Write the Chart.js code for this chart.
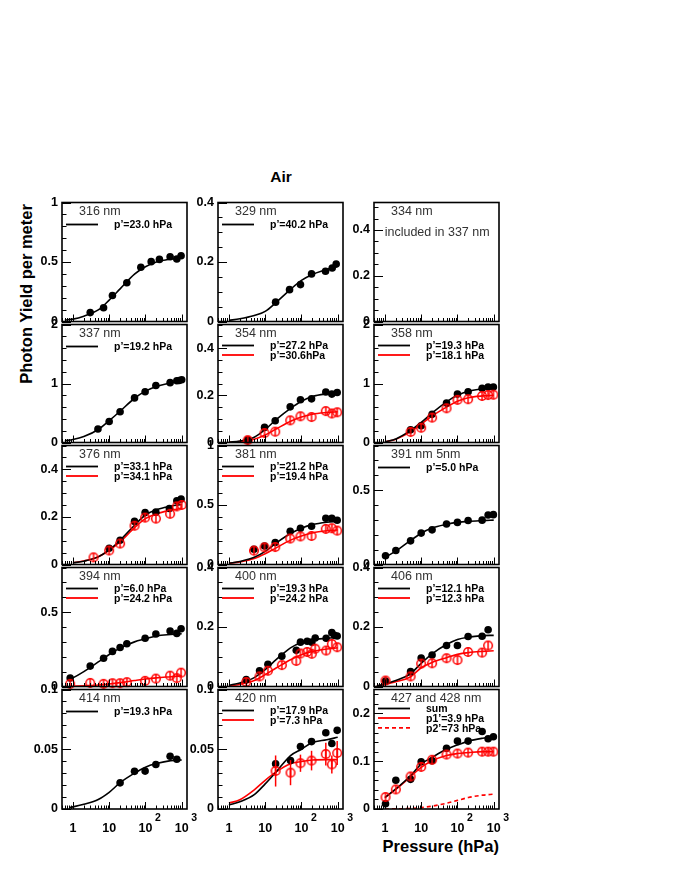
<!DOCTYPE html>
<html>
<head>
<meta charset="utf-8">
<script src="https://cdn.jsdelivr.net/npm/chart.js@4.4.1/dist/chart.umd.min.js"></script>
<style>
  body { margin: 0; background: #fff; }
  #page { position: relative; width: 674px; height: 872px; overflow: hidden; font-family: "Liberation Sans", Arial, sans-serif; }
  #page canvas { position: absolute; }
  .lbl { position: absolute; font-weight: bold; line-height: 1; white-space: nowrap; color: #000; }
</style>
</head>
<body>
<div id="page">
  <div class="lbl" style="left:281px; top:177px; font-size:15.5px; transform:translate(-50%,-50%);">Air</div>
  <div class="lbl" style="left:25.6px; top:294px; font-size:16.5px; transform:translate(-50%,-50%) rotate(-90deg);">Photon Yield per meter</div>
  <div class="lbl" style="left:499px; top:846px; font-size:16.5px; transform:translate(-100%,-50%);">Pressure (hPa)</div>
</div>
<script>
var fitP = [1, 2, 5, 10, 20, 50, 100, 200, 500, 1000];
var fitPLow = [0.6, 1, 2, 5, 10, 20, 50, 100, 200, 500, 1000];
var fitP08 = [0.8, 1, 2, 5, 10, 20, 50, 100, 200, 500, 1000];

// 316 nm
var p316 = [3.0, 7.0, 12.3, 30.7, 74.7, 144, 243, 479, 733, 962];
var y316 = [0.075, 0.116, 0.218, 0.326, 0.456, 0.503, 0.522, 0.544, 0.525, 0.552];
var fit316 = [0.012, 0.02, 0.045, 0.097, 0.18, 0.274, 0.398, 0.46, 0.5, 0.525, 0.535];
// 329 nm
var p329 = [19.4, 47, 94, 190, 461, 705, 908];
var y329 = [0.065, 0.107, 0.124, 0.16, 0.169, 0.18, 0.193];
var fit329 = [0.004, 0.009, 0.02, 0.034, 0.064, 0.108, 0.138, 0.158, 0.175, 0.188];
// 337 nm
var p337 = [4.9, 10, 20, 50, 98, 194, 479, 733, 850, 1000];
var y337 = [0.23, 0.356, 0.52, 0.756, 0.86, 0.965, 1.014, 1.047, 1.052, 1.063];
var fit337 = [0.03, 0.05, 0.1, 0.22, 0.37, 0.53, 0.75, 0.87, 0.95, 1.01, 1.05];
// 354 nm
var p354 = [3.3, 9.6, 18.9, 49, 94, 190, 470, 689, 968];
var y354b = [0.011, 0.064, 0.092, 0.151, 0.181, 0.185, 0.214, 0.205, 0.212];
var y354r = [0.01, 0.04, 0.046, 0.094, 0.111, 0.108, 0.133, 0.123, 0.128];
var fit354b = [0.002, 0.006, 0.022, 0.055, 0.097, 0.145, 0.175, 0.195, 0.206, 0.21];
var fit354r = [0.001, 0.004, 0.014, 0.032, 0.057, 0.09, 0.108, 0.12, 0.127, 0.13];
// 358 nm
var p358 = [5.1, 10, 20, 50, 100, 197, 479, 701, 980];
var y358b = [0.214, 0.284, 0.477, 0.668, 0.82, 0.86, 0.92, 0.94, 0.94];
var y358r = [0.18, 0.25, 0.422, 0.58, 0.723, 0.734, 0.789, 0.805, 0.81];
var fit358b = [0.01, 0.06, 0.2, 0.34, 0.5, 0.69, 0.8, 0.87, 0.91, 0.93];
var fit358r = [0.01, 0.055, 0.18, 0.31, 0.45, 0.6, 0.7, 0.76, 0.79, 0.8];
// 376 nm
var p376b = [10, 20, 50, 98, 194, 457, 733, 962];
var y376b = [0.068, 0.102, 0.181, 0.218, 0.22, 0.235, 0.268, 0.275];
var p376r = [3.7, 10, 20, 50, 98, 194, 479, 733, 1000];
var y376r = [0.03, 0.059, 0.088, 0.163, 0.197, 0.193, 0.213, 0.244, 0.25];
var fit376b = [0.007, 0.014, 0.032, 0.061, 0.102, 0.165, 0.208, 0.23, 0.245, 0.252];
var fit376r = [0.007, 0.015, 0.033, 0.06, 0.095, 0.155, 0.193, 0.213, 0.228, 0.236];
// 381 nm
var p381 = [4.9, 9.6, 18.9, 49, 94, 190, 470, 689, 968];
var y381b = [0.128, 0.155, 0.185, 0.28, 0.305, 0.321, 0.389, 0.389, 0.372];
var y381r = [0.117, 0.144, 0.147, 0.218, 0.236, 0.24, 0.299, 0.305, 0.285];
var fit381b = [0.01, 0.025, 0.06, 0.11, 0.18, 0.26, 0.305, 0.335, 0.355, 0.362];
var fit381r = [0.01, 0.022, 0.05, 0.09, 0.14, 0.205, 0.24, 0.265, 0.283, 0.29];
// 391 nm
var p391 = [1.04, 2.0, 5.1, 10, 20, 50, 100, 197, 479, 701, 980];
var y391 = [0.059, 0.094, 0.159, 0.211, 0.233, 0.272, 0.283, 0.296, 0.298, 0.333, 0.335];
var fit391 = [0.048, 0.09, 0.16, 0.21, 0.245, 0.27, 0.283, 0.29, 0.295, 0.298];
// 394 nm
var p394 = [0.84, 3.0, 7.0, 12.3, 20, 30.7, 98, 194, 479, 733, 962];
var y394b = [0.057, 0.137, 0.19, 0.236, 0.262, 0.287, 0.324, 0.353, 0.373, 0.357, 0.388];
var y394r = [0.018, 0.024, 0.018, 0.022, 0.022, 0.029, 0.038, 0.053, 0.073, 0.056, 0.093];
var fit394b = [0.048, 0.058, 0.1, 0.165, 0.215, 0.258, 0.3, 0.32, 0.34, 0.35, 0.355];
var fit394r = [0.001, 0.002, 0.005, 0.01, 0.017, 0.026, 0.04, 0.05, 0.058, 0.066, 0.072];
// 400 nm
var p400b = [3.0, 7.0, 11.9, 28.8, 72, 94, 144, 193, 240, 480, 689, 812, 968];
var y400b = [0.023, 0.053, 0.075, 0.102, 0.122, 0.149, 0.152, 0.149, 0.163, 0.162, 0.181, 0.172, 0.17];
var p400r = [3.0, 7.0, 11.9, 28.8, 72, 94, 144, 193, 240, 480, 689, 968];
var y400r = [0.015, 0.034, 0.053, 0.072, 0.086, 0.111, 0.116, 0.11, 0.127, 0.121, 0.143, 0.132];
var fit400b = [0.004, 0.012, 0.03, 0.057, 0.09, 0.13, 0.148, 0.157, 0.162, 0.165];
var fit400r = [0.002, 0.007, 0.02, 0.04, 0.062, 0.09, 0.107, 0.118, 0.126, 0.13];
// 406 nm
var p406 = [1.04, 5.1, 10, 20, 50, 100, 197, 479, 701];
var y406b = [0.018, 0.05, 0.096, 0.106, 0.138, 0.138, 0.168, 0.169, 0.191];
var y406r = [0.02, 0.034, 0.077, 0.078, 0.095, 0.089, 0.116, 0.114, 0.138];
var fit406b = [0.002, 0.008, 0.02, 0.042, 0.078, 0.11, 0.141, 0.158, 0.166, 0.171, 0.172];
var fit406r = [0.002, 0.007, 0.016, 0.032, 0.063, 0.081, 0.097, 0.108, 0.114, 0.118, 0.12];
// 414 nm
var p414 = [20, 50, 98, 194, 479, 733];
var y414 = [0.0219, 0.0315, 0.0317, 0.0373, 0.0441, 0.0416];
var fit414 = [0.0012, 0.0018, 0.004, 0.008, 0.014, 0.022, 0.03, 0.035, 0.038, 0.0405, 0.041];
// 420 nm
var p420 = [19.4, 50, 94, 190, 470, 689, 968];
var y420b = [0.0378, 0.0405, 0.0523, 0.0564, 0.0638, 0.0548, 0.0658];
var y420r = [0.0318, 0.0304, 0.0383, 0.0405, 0.046, 0.0373, 0.0469];
var err420r = [0.013, 0.0105, 0.0072, 0.0082, 0.0095, 0.0075, 0.01];
var fit420b = [0.0033, 0.006, 0.012, 0.021, 0.031, 0.0447, 0.05, 0.0556, 0.058, 0.06];
var fit420r = [0.005, 0.0077, 0.016, 0.024, 0.031, 0.0378, 0.0397, 0.041, 0.0413, 0.0413];
// 427 and 428 nm
var p427 = [1.04, 2.0, 5.1, 10, 20, 50, 100, 197, 479, 701, 980];
var y427b = [0.011, 0.06, 0.062, 0.099, 0.101, 0.127, 0.142, 0.142, 0.162, 0.147, 0.151];
var y427r = [0.025, 0.041, 0.068, 0.088, 0.103, 0.114, 0.116, 0.118, 0.12, 0.12, 0.12];
var fit427sum = [0.024, 0.042, 0.069, 0.094, 0.108, 0.125, 0.134, 0.142, 0.148, 0.151];
var fit427p1 = [0.024, 0.041, 0.067, 0.087, 0.101, 0.112, 0.116, 0.118, 0.12, 0.12];
var fit427p2 = [0.0, 0.0005, 0.001, 0.003, 0.006, 0.012, 0.018, 0.024, 0.029, 0.031];

// y tick labels per panel
var yLab01 = [0, 0.5, 1];
var yLab04 = [0, 0.2, 0.4];
var yLab2 = [0, 1, 2];
var yLab08 = [0, 0.5];
var yLab01small = [0, 0.05, 0.1];
var yLab025 = [0, 0.1, 0.2];

// x tick labels (bottom row only)
var xTickVals = [1, 10, 100, 1000];
var xTickBase = ['1', '10', '10', '10'];
var xTickExp = ['', '', '2', '3'];

var BLACK = '#000000';
var RED = '#ff0000';
var FONT = '"Liberation Sans", Arial, sans-serif';

var colLeft = [62, 218, 374];
var rowTop = [201, 323, 444, 566, 688];
var rowH = [122, 121, 122, 122, 121];
var panelW = 125;
var padLeft = 45, padRight = 16;

// open red circle with the small vertical error bar through it
function makeRing() {
    var c = document.createElement('canvas');
    c.width = 12;
    c.height = 12;
    var g = c.getContext('2d');
    g.strokeStyle = RED;
    g.lineWidth = 1.5;
    g.beginPath();
    g.arc(6, 6, 4.3, 0, Math.PI * 2);
    g.stroke();
    g.beginPath();
    g.moveTo(6, 1.5);
    g.lineTo(6, 10.5);
    g.stroke();
    return c;
}
var ring = makeRing();

function pts(xs, ys) {
    return xs.map(function (x, i) { return { x: x, y: ys[i] }; });
}
function curve(xs, ys, color, dash) {
    return { data: pts(xs, ys), borderColor: color, borderWidth: 1.6, borderDash: dash || [],
        pointRadius: 0, cubicInterpolationMode: 'monotone', fill: false, order: 3 };
}
function dots(xs, ys) {
    return { data: pts(xs, ys), showLine: false, pointStyle: 'circle', pointRadius: 3.8,
        backgroundColor: BLACK, borderColor: BLACK, borderWidth: 0, clip: false, order: 2 };
}
function rings(xs, ys, errs) {
    return { data: pts(xs, ys), showLine: false, pointStyle: ring, pointRadius: 5,
        borderColor: RED, clip: false, order: 1, errors: errs || null };
}

var panels = [
    { row: 0, col: 0, title: '316 nm', yMax: 1, yMajor: 0.5, yMinor: 0.1, yLabels: yLab01,
      legend: [['p\u2019=23.0 hPa', BLACK]],
      sets: [curve(fitPLow, fit316, BLACK), dots(p316, y316)] },
    { row: 0, col: 1, title: '329 nm', yMax: 0.4, yMajor: 0.2, yMinor: 0.05, yLabels: yLab04,
      legend: [['p\u2019=40.2 hPa', BLACK]],
      sets: [curve(fitP, fit329, BLACK), dots(p329, y329)] },
    { row: 0, col: 2, title: '334 nm', note: 'included in 337 nm', yMax: 0.52, yMajor: 0.2, yMinor: 0.05, yLabels: yLab04,
      legend: [], sets: [] },
    { row: 1, col: 0, title: '337 nm', yMax: 2, yMajor: 1, yMinor: 0.2, yLabels: yLab2,
      legend: [['p\u2019=19.2 hPa', BLACK]],
      sets: [curve(fitPLow, fit337, BLACK), dots(p337, y337)] },
    { row: 1, col: 1, title: '354 nm', yMax: 0.5, yMajor: 0.2, yMinor: 0.05, yLabels: yLab04,
      legend: [['p\u2019=27.2 hPa', BLACK], ['p\u2019=30.6hPa', RED]],
      sets: [curve(fitP, fit354b, BLACK), curve(fitP, fit354r, RED), dots(p354, y354b), rings(p354, y354r)] },
    { row: 1, col: 2, title: '358 nm', yMax: 2, yMajor: 1, yMinor: 0.2, yLabels: yLab2,
      legend: [['p\u2019=19.3 hPa', BLACK], ['p\u2019=18.1 hPa', RED]],
      sets: [curve(fitP, fit358b, BLACK), curve(fitP, fit358r, RED), dots(p358, y358b), rings(p358, y358r)] },
    { row: 2, col: 0, title: '376 nm', yMax: 0.5, yMajor: 0.2, yMinor: 0.05, yLabels: yLab04,
      legend: [['p\u2019=33.1 hPa', BLACK], ['p\u2019=34.1 hPa', RED]],
      sets: [curve(fitP, fit376b, BLACK), curve(fitP, fit376r, RED), dots(p376b, y376b), rings(p376r, y376r)] },
    { row: 2, col: 1, title: '381 nm', yMax: 1, yMajor: 0.5, yMinor: 0.1, yLabels: yLab01,
      legend: [['p\u2019=21.2 hPa', BLACK], ['p\u2019=19.4 hPa', RED]],
      sets: [curve(fitP, fit381b, BLACK), curve(fitP, fit381r, RED), dots(p381, y381b), rings(p381, y381r)] },
    { row: 2, col: 2, title: '391 nm 5nm', yMax: 0.8, yMajor: 0.5, yMinor: 0.1, yLabels: yLab08,
      legend: [['p\u2019=5.0 hPa', BLACK]],
      sets: [curve(fitP, fit391, BLACK), dots(p391, y391)] },
    { row: 3, col: 0, title: '394 nm', yMax: 0.8, yMajor: 0.5, yMinor: 0.1, yLabels: yLab08,
      legend: [['p\u2019=6.0 hPa', BLACK], ['p\u2019=24.2 hPa', RED]],
      sets: [curve(fitP08, fit394b, BLACK), curve(fitP08, fit394r, RED), dots(p394, y394b), rings(p394, y394r)] },
    { row: 3, col: 1, title: '400 nm', yMax: 0.4, yMajor: 0.2, yMinor: 0.05, yLabels: yLab04,
      legend: [['p\u2019=19.3 hPa', BLACK], ['p\u2019=24.2 hPa', RED]],
      sets: [curve(fitP, fit400b, BLACK), curve(fitP, fit400r, RED), dots(p400b, y400b), rings(p400r, y400r)] },
    { row: 3, col: 2, title: '406 nm', yMax: 0.4, yMajor: 0.2, yMinor: 0.05, yLabels: yLab04,
      legend: [['p\u2019=12.1 hPa', BLACK], ['p\u2019=12.3 hPa', RED]],
      sets: [curve(fitPLow, fit406b, BLACK), curve(fitPLow, fit406r, RED), dots(p406, y406b), rings(p406, y406r)] },
    { row: 4, col: 0, title: '414 nm', yMax: 0.1, yMajor: 0.05, yMinor: 0.01, yLabels: yLab01small,
      legend: [['p\u2019=19.3 hPa', BLACK]],
      sets: [curve(fitP08, fit414, BLACK), dots(p414, y414)] },
    { row: 4, col: 1, title: '420 nm', yMax: 0.1, yMajor: 0.05, yMinor: 0.01, yLabels: yLab01small,
      legend: [['p\u2019=17.9 hPa', BLACK], ['p\u2019=7.3 hPa', RED]],
      sets: [curve(fitP, fit420b, BLACK), curve(fitP, fit420r, RED), dots(p420, y420b), rings(p420, y420r, err420r)] },
    { row: 4, col: 2, title: '427 and 428 nm', yMax: 0.25, yMajor: 0.1, yMinor: 0.02, yLabels: yLab025,
      legend: [['sum', BLACK], ['p1\u2019=3.9 hPa', RED], ['p2\u2019=73 hPa', RED, [4, 3]]],
      sets: [curve(fitP, fit427sum, BLACK), curve(fitP, fit427p1, RED), curve(fitP, fit427p2, RED, [4, 3]),
             dots(p427, y427b), rings(p427, y427r)] }
];

function line(ctx, x1, y1, x2, y2) {
    ctx.beginPath();
    ctx.moveTo(x1, y1);
    ctx.lineTo(x2, y2);
    ctx.stroke();
}

// frame, inner ticks, texts, legend and error bars of one panel
function panelPlugin(pn) {
    return {
        id: 'panel',
        afterDatasetsDraw: function (chart) {
            var ctx = chart.ctx, x = chart.scales.x, y = chart.scales.y;
            ctx.save();
            chart.data.datasets.forEach(function (ds) {
                if (!ds.errors) return;
                ctx.strokeStyle = RED;
                ctx.lineWidth = 1.5;
                ds.data.forEach(function (d, i) {
                    var px = x.getPixelForValue(d.x);
                    line(ctx, px, y.getPixelForValue(d.y - ds.errors[i]), px, y.getPixelForValue(d.y + ds.errors[i]));
                });
            });
            ctx.restore();
        },
        afterDraw: function (chart) {
            var ctx = chart.ctx, a = chart.chartArea, x = chart.scales.x, y = chart.scales.y;
            ctx.save();
            ctx.strokeStyle = BLACK;
            ctx.lineWidth = 1;
            // y ticks, inside the frame
            var n = Math.floor(pn.yMax / pn.yMinor + 1e-6);
            for (var i = 0; i <= n; i++) {
                var v = i * pn.yMinor;
                var r = v / pn.yMajor;
                var major = Math.abs(r - Math.round(r)) < 1e-6;
                var py = Math.round(y.getPixelForValue(v)) + 0.5;
                line(ctx, a.left, py, a.left + (major ? 9 : 4.5), py);
            }
            // x ticks on the log axis
            for (var e = -1; e <= 3; e++) {
                for (var j = 1; j <= 9; j++) {
                    var xv = j * Math.pow(10, e);
                    if (xv < x.min || xv > x.max) continue;
                    var px = Math.round(x.getPixelForValue(xv)) + 0.5;
                    line(ctx, px, a.bottom, px, a.bottom - (j === 1 ? 7 : 3.5));
                }
            }
            // frame
            ctx.lineWidth = 1.6;
            ctx.strokeRect(a.left, a.top, a.right - a.left, a.bottom - a.top);

            // wavelength title
            ctx.textBaseline = 'middle';
            ctx.textAlign = 'left';
            ctx.fillStyle = '#333';
            ctx.font = '12.5px ' + FONT;
            ctx.fillText(pn.title, a.left + 17, a.top + 9);
            if (pn.note) ctx.fillText(pn.note, a.left + 10.7, a.top + 30);

            // legend
            var ys = pn.legend.length === 1 ? [22] : pn.legend.length === 2 ? [21, 30.5] : [19, 28.5, 38.3];
            pn.legend.forEach(function (it, k) {
                var ly = a.top + ys[k];
                ctx.strokeStyle = it[1];
                ctx.lineWidth = 1.8;
                ctx.setLineDash(it[2] || []);
                line(ctx, a.left + 4, ly, a.left + 36, ly);
                ctx.setLineDash([]);
                ctx.fillStyle = BLACK;
                ctx.font = 'bold 10.5px ' + FONT;
                ctx.fillText(it[0], a.left + 52, ly + 1);
            });

            // x labels with exponents, bottom row only
            if (pn.row === 4) {
                ctx.fillStyle = BLACK;
                xTickVals.forEach(function (v, k) {
                    var tx = x.getPixelForValue(v);
                    ctx.font = 'bold 12.5px ' + FONT;
                    ctx.textAlign = 'center';
                    ctx.fillText(xTickBase[k], tx, a.bottom + 20);
                    if (xTickExp[k]) {
                        var w = ctx.measureText(xTickBase[k]).width;
                        ctx.font = 'bold 10.5px ' + FONT;
                        ctx.textAlign = 'left';
                        ctx.fillText(xTickExp[k], tx + w / 2 + 2.5, a.bottom + 9);
                    }
                });
            }
            ctx.restore();
        }
    };
}

var page = document.getElementById('page');
panels.forEach(function (pn) {
    var bottomPad = pn.row === 4 ? 36 : 10;
    var w = padLeft + panelW + padRight;
    var h = 10 + rowH[pn.row] + bottomPad;
    var cv = document.createElement('canvas');
    cv.width = w;
    cv.height = h;
    cv.style.left = (colLeft[pn.col] - padLeft) + 'px';
    cv.style.top = (rowTop[pn.row] - 10) + 'px';
    cv.style.width = w + 'px';
    cv.style.height = h + 'px';
    page.appendChild(cv);

    new Chart(cv, {
        type: 'line',
        data: { datasets: pn.sets },
        options: {
            responsive: false,
            animation: false,
            devicePixelRatio: 1,
            events: [],
            layout: { padding: { left: 0, right: padRight, top: 10, bottom: bottomPad } },
            scales: {
                x: { type: 'logarithmic', min: 0.5, max: 1400, display: false },
                y: {
                    type: 'linear', min: 0, max: pn.yMax, position: 'left',
                    afterBuildTicks: function (s) { s.ticks = pn.yLabels.map(function (v) { return { value: v }; }); },
                    afterFit: function (s) { s.width = padLeft; },
                    grid: { display: false, drawTicks: false },
                    border: { display: false },
                    ticks: {
                        padding: 4, autoSkip: false, color: BLACK,
                        font: { family: FONT, size: 12.5, weight: 'bold' },
                        callback: function (v) { return String(v); }
                    }
                }
            },
            plugins: { legend: { display: false }, tooltip: { enabled: false } }
        },
        plugins: [panelPlugin(pn)]
    });
});
</script>
</body>
</html>
